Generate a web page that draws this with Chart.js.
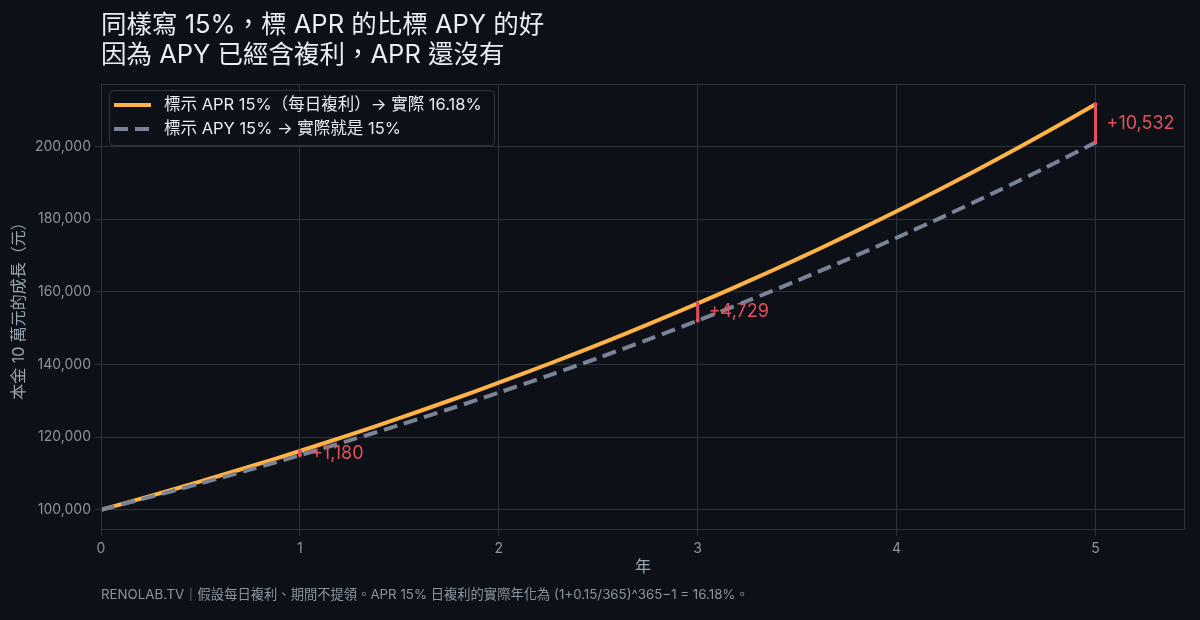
<!DOCTYPE html>
<html>
<head>
<meta charset="utf-8">
<script src="https://cdn.jsdelivr.net/npm/chart.js@4.4.1/dist/chart.umd.min.js"></script>
<style>
  html, body { margin: 0; padding: 0; background: #0d1117; }
  #wrap { position: relative; width: 1200px; height: 620px; overflow: hidden;
          font-family: Inter, "Noto Sans CJK TC", sans-serif; }
  #title { position: absolute; left: 101px; top: 9px; color: #e6edf3;
           font-size: 25.5px; line-height: 30px; white-space: nowrap; }
  #note { position: absolute; left: 101px; top: 584px; color: #8b949e;
          font-size: 13.3px; white-space: nowrap; }
  canvas { position: absolute; left: 0; top: 0; }
</style>
</head>
<body>
<div id="wrap">
  <canvas id="chart" width="1200" height="620"></canvas>
  <div id="title">同樣寫 15%，標 APR 的比標 APY 的好<br>因為 APY 已經含複利，APR 還沒有</div>
  <div id="note">RENOLAB.TV｜假設每日複利、期間不提領。APR 15% 日複利的實際年化為 (1+0.15/365)^365−1 = 16.18%。</div>
</div>
<script>
// years since deposit
const years = [0, 0.25, 0.5, 0.75, 1, 1.25, 1.5, 1.75, 2, 2.25, 2.5, 2.75,
               3, 3.25, 3.5, 3.75, 4, 4.25, 4.5, 4.75, 5];

// balance, APR 15% compounded daily
const aprBalance = [100000, 103820, 107787, 111905, 116180, 120618, 125227, 130011,
                    134977, 140134, 145488, 151046, 156817, 162808, 169028, 175486,
                    182190, 189150, 196377, 203879, 211667];

// balance, APY 15%
const apyBalance = [100000, 103556, 107238, 111051, 115000, 119089, 123324, 127709,
                    132250, 136953, 141822, 146865, 152088, 157495, 163097, 168895,
                    174901, 181120, 187560, 194230, 201135];

const gapYears = [1, 3, 5];

const labelApr = '標示 APR 15%（每日複利）→ 實際 16.18%';
const labelApy = '標示 APY 15% → 實際就是 15%';

const FONT = 'Inter, "Noto Sans CJK TC", sans-serif';
const GRID = '#2d333b';
const TICK = '#8b949e';
const RED = '#e2505c';

const toPoints = (ys) => years.map((x, i) => ({ x, y: ys[i] }));

const frame = {
    id: 'frame',
    afterDraw(chart) {
        const { ctx, chartArea: a } = chart;
        ctx.save();
        ctx.strokeStyle = GRID;
        ctx.lineWidth = 1;
        ctx.strokeRect(a.left + 0.5, a.top + 0.5, a.right - a.left - 1, a.bottom - a.top - 1);
        ctx.restore();
    }
};

const gapMarks = {
    id: 'gapMarks',
    afterDatasetsDraw(chart) {
        const { ctx, scales: { x, y } } = chart;
        ctx.save();
        for (let yr of gapYears) {
            const i = years.indexOf(yr);
            const hi = aprBalance[i], lo = apyBalance[i];
            const px = x.getPixelForValue(yr);
            const pHi = y.getPixelForValue(hi);
            const pLo = y.getPixelForValue(lo);
            ctx.strokeStyle = RED;
            ctx.lineWidth = 3;
            ctx.beginPath();
            ctx.moveTo(px, pHi);
            ctx.lineTo(px, pLo);
            ctx.stroke();
            ctx.fillStyle = RED;
            ctx.beginPath(); ctx.arc(px, pHi, 2, 0, Math.PI * 2); ctx.fill();
            ctx.beginPath(); ctx.arc(px, pLo, 2, 0, Math.PI * 2); ctx.fill();

            ctx.font = `18px ${FONT}`;
            ctx.textAlign = 'left';
            ctx.textBaseline = 'middle';
            ctx.fillText('+' + Math.round(hi - lo).toLocaleString('en-US'), px + 11, (pHi + pLo) / 2);
        }
        ctx.restore();
    }
};

const boxLegend = {
    id: 'boxLegend',
    afterDraw(chart) {
        const { ctx } = chart;
        const bx = 109, by = 90, bw = 385, bh = 55;
        ctx.save();
        ctx.fillStyle = 'rgba(13,17,23,0.85)';
        ctx.strokeStyle = '#30363d';
        ctx.lineWidth = 1;
        ctx.beginPath();
        ctx.roundRect(bx + 0.5, by + 0.5, bw, bh, 4);
        ctx.fill();
        ctx.stroke();

        chart.data.datasets.forEach((ds, i) => {
            const cy = by + 15 + i * 24;
            ctx.strokeStyle = ds.borderColor;
            ctx.lineWidth = 4;
            ctx.setLineDash(ds.borderDash || []);
            ctx.beginPath();
            ctx.moveTo(114, cy);
            ctx.lineTo(151, cy);
            ctx.stroke();
            ctx.setLineDash([]);
            ctx.fillStyle = '#e6edf3';
            ctx.font = `16.5px ${FONT}`;
            ctx.textAlign = 'left';
            ctx.textBaseline = 'middle';
            ctx.fillText(ds.label, 164, cy);
        });
        ctx.restore();
    }
};

new Chart(document.getElementById('chart'), {
    type: 'line',
    data: {
        datasets: [
            {
                label: labelApr,
                data: toPoints(aprBalance),
                borderColor: '#ffb347',
                borderWidth: 4,
                pointRadius: 0,
                tension: 0.3,
                order: 2
            },
            {
                label: labelApy,
                data: toPoints(apyBalance),
                borderColor: '#7a8496',
                borderWidth: 4,
                borderDash: [14, 7],
                pointRadius: 0,
                tension: 0.3,
                order: 1
            }
        ]
    },
    options: {
        responsive: false,
        animation: false,
        layout: { padding: { left: 0, right: 15, top: 84, bottom: 0 } },
        plugins: {
            legend: { display: false },
            tooltip: { enabled: false }
        },
        scales: {
            x: {
                type: 'linear',
                min: 0,
                max: 5.45,
                afterBuildTicks: (s) => { s.ticks = s.ticks.filter(t => Number.isInteger(t.value)); },
                afterFit: (s) => { s.height = 90; },
                ticks: { stepSize: 1, color: TICK, font: { family: FONT, size: 14 }, padding: 4 },
                grid: { color: GRID, tickLength: 6, tickColor: GRID },
                border: { display: false },
                title: { display: true, text: '年', color: '#9aa4b0',
                         font: { family: FONT, size: 16 }, padding: { top: 0, bottom: 43 } }
            },
            y: {
                min: 94417,
                max: 217250,
                afterBuildTicks: (s) => {
                    s.ticks = [];
                    for (let v = 100000; v <= 200000; v += 20000) s.ticks.push({ value: v });
                },
                afterFit: (s) => { s.width = 101; },
                ticks: { color: TICK, font: { family: FONT, size: 14 }, padding: 4,
                         callback: (v) => v.toLocaleString('en-US') },
                grid: { color: GRID, tickLength: 6, tickColor: GRID },
                border: { display: false },
                title: { display: true, text: '本金 10 萬元的成長（元）', color: '#9aa4b0',
                         font: { family: FONT, size: 16 }, padding: { top: 10, bottom: 0 } }
            }
        }
    },
    plugins: [frame, gapMarks, boxLegend]
});
</script>
</body>
</html>
